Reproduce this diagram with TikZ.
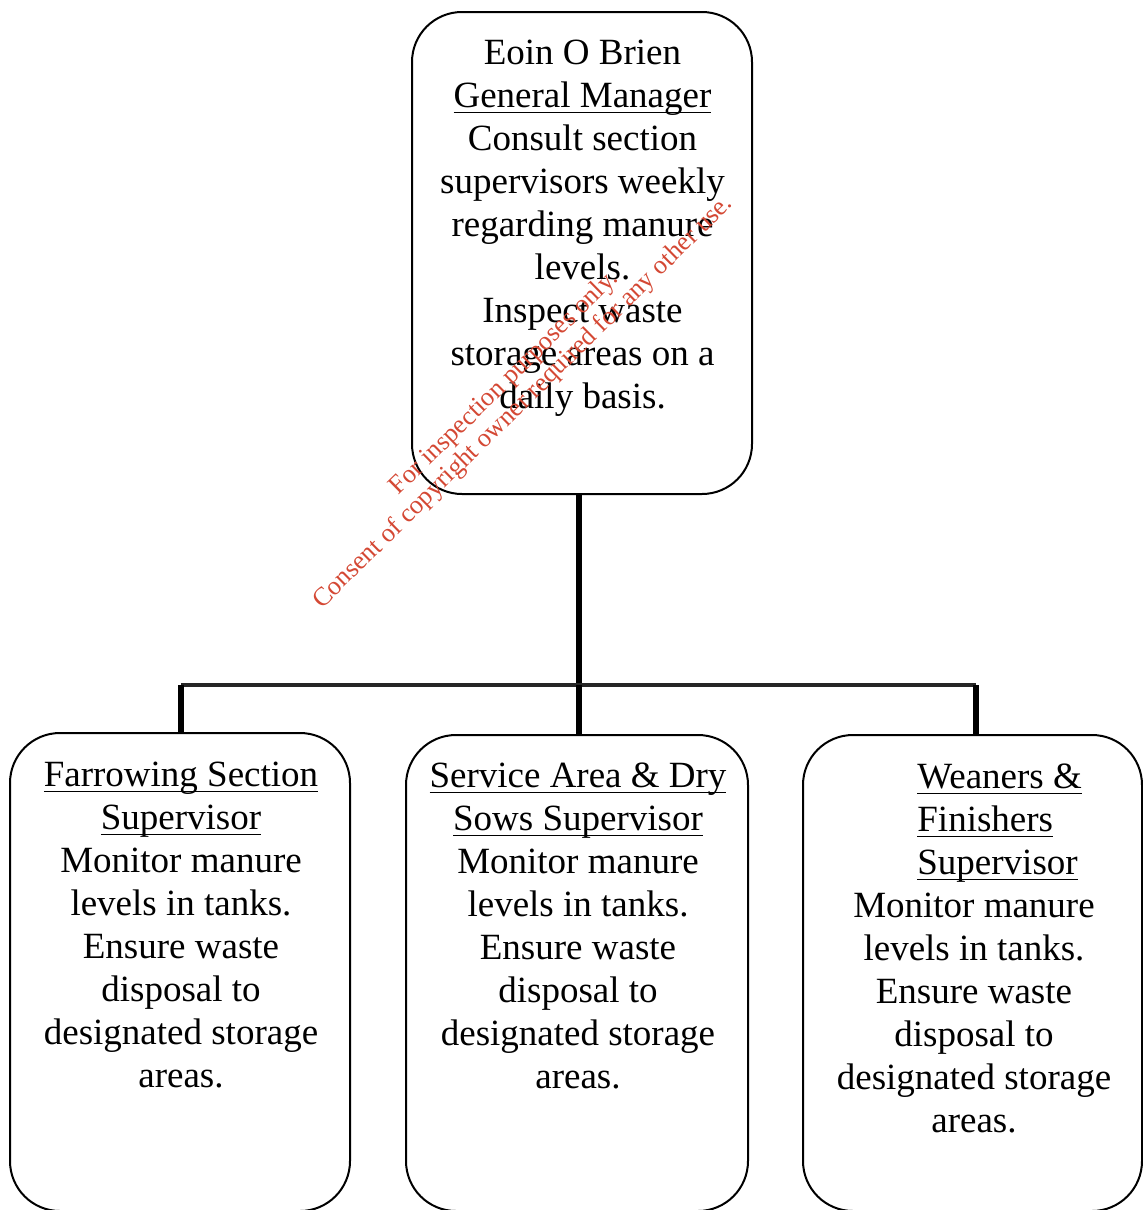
\documentclass[tikz,border=0pt]{standalone}
\usepackage{fontspec}
\setmainfont{Liberation Serif}
\usetikzlibrary{calc}
\definecolor{wmred}{RGB}{212,72,52}
\newcommand\ulx[1]{\setbox0\hbox{#1}\rlap{\rule[-3pt]{\wd0}{0.9pt}}\box0}
\newcommand\tstrut{\rule{0pt}{16pt}}
\tikzset{
  orgbox/.style={draw, line width=1pt, rounded corners=25pt, inner sep=0pt},
  boxtext/.style={inner sep=0pt, align=center, font=\fontsize{18.5}{21.5}\selectfont, anchor=north},
  headleft/.style={inner sep=0pt, align=left, font=\fontsize{18.5}{21.5}\selectfont, anchor=north west},
  thickline/.style={line width=2.6pt},
  barline/.style={line width=1.7pt, black!85},
  watermark/.style={text=wmred, align=center, rotate=44.5, inner sep=0pt, font=\fontsize{13.1}{13.5}\selectfont}
}
\begin{document}
\begin{tikzpicture}[x=0.5pt, y=-0.5pt]
\useasboundingbox (0,0) rectangle (1143,1210);
% boxes
\node[orgbox, minimum width=170pt, minimum height=241pt] (gm) at (582,253) {};
\node[orgbox, minimum width=170pt, minimum height=239pt] (fs) at (180,972) {};
\node[orgbox, minimum width=171pt, minimum height=238pt] (sa) at (577,973) {};
\node[orgbox, minimum width=169.5pt, minimum height=238pt] (wf) at (972.5,973) {};
% texts
\node[boxtext] (gmt) at (582.5,32) {\tstrut Eoin O Brien\\ \ulx{General Manager}\\ Consult section\\ supervisors weekly\\ regarding manure\\ levels.\\ Inspect waste\\ storage areas on a\\ daily basis.};
\node[boxtext] (fst) at (181,754) {\tstrut\ulx{Farrowing Section}\\ \ulx{Supervisor}\\ Monitor manure\\ levels in tanks.\\ Ensure waste\\ disposal to\\ designated storage\\ areas.};
\node[boxtext] (sat) at (578,755) {\tstrut\ulx{Service Area \& Dry}\\ \ulx{Sows Supervisor}\\ Monitor manure\\ levels in tanks.\\ Ensure waste\\ disposal to\\ designated storage\\ areas.};
\node[headleft] (wfh) at (917,756) {\tstrut\ulx{Weaners \&}\\ \ulx{Finishers}\\ \ulx{Supervisor}};
\node[boxtext] (wft) at (974,885) {\tstrut Monitor manure\\ levels in tanks.\\ Ensure waste\\ disposal to\\ designated storage\\ areas.};
% connectors
\coordinate (j) at (579,685);
\coordinate (hl) at (181,685);
\coordinate (hr) at (976,685);
\draw[thickline] (gm.south -| j) -- (j);
\draw[barline] (hl) -- (hr);
\draw[thickline] (hl) -- (hl |- fs.north);
\draw[thickline] (j) -- (j |- sa.north);
\draw[thickline] (hr) -- (hr |- wf.north);
% watermark
\node[watermark] (wm) at (514,393) {For inspection purposes only.\\ Consent of copyright owner required for any other use.};
\end{tikzpicture}
\end{document}
